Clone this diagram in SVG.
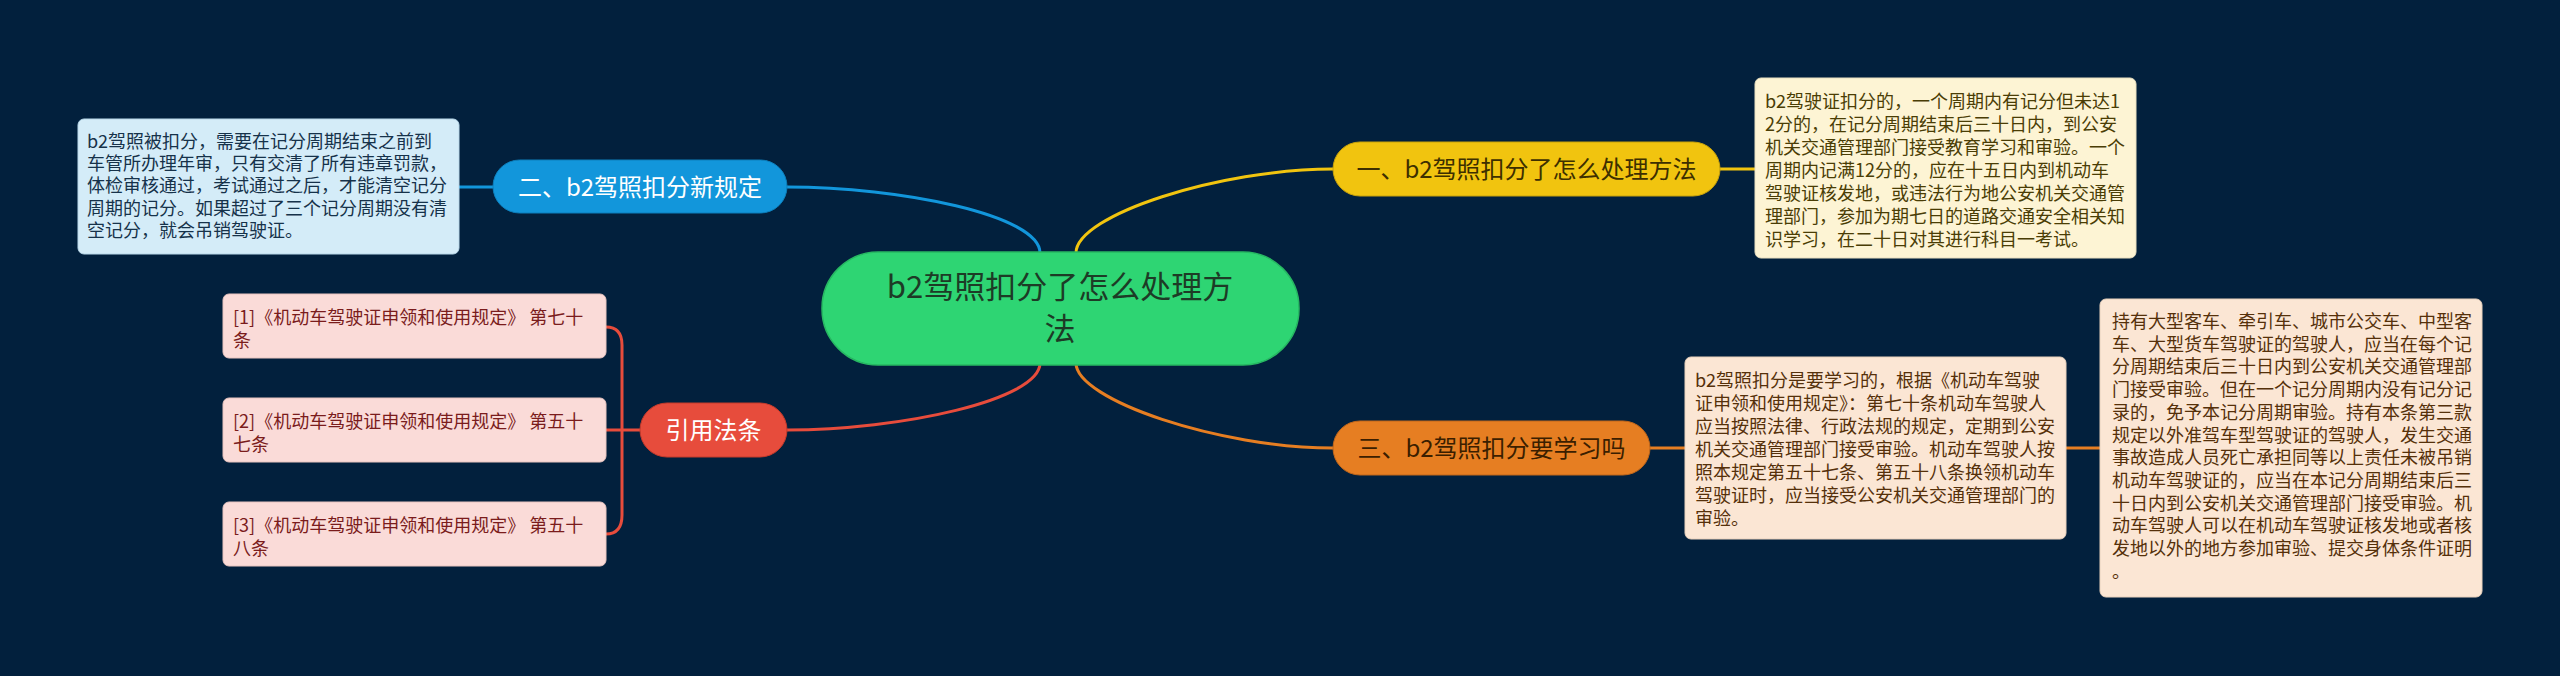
<svg xmlns="http://www.w3.org/2000/svg" width="2560" height="676" viewBox="0 0 2560 676">
<style>
text{font-family:"Noto Sans CJK SC","Noto Sans",sans-serif;}
.main{font-size:24px;text-anchor:middle;}
.desc{font-size:18px;}
.link{fill:none;stroke-width:3;stroke-linecap:round;}
</style>
<rect x="0" y="0" width="2560" height="676" fill="#02203d"/>
<g id="connectors">
<path class="link" stroke="#1296db" d="M1040,253 C1040,215 900,187 787,187"/>
<path class="link" stroke="#f1c40f" d="M1076,253 C1076,215 1220,169 1333,169"/>
<path class="link" stroke="#e74c3c" d="M1040,363 C1040,400 900,430 787,430"/>
<path class="link" stroke="#e67e22" d="M1076,363 C1076,400 1220,448 1333,448"/>
<path class="link" stroke="#1296db" d="M459,187 L493,187"/>
<path class="link" stroke="#f1c40f" d="M1720,169 L1755,169"/>
<path class="link" stroke="#e67e22" d="M1650,448 L1685,448"/>
<path class="link" stroke="#e67e22" d="M2066,448 L2100,448"/>
<path class="link" stroke="#e74c3c" stroke-width="2.5" d="M640,430 L606,430"/>
<path class="link" stroke="#e74c3c" stroke-width="2.5" d="M606,327 Q622,327 622,345 L622,515 Q622,534 606,534"/>
</g>
<g id="center">
<rect x="822" y="252" width="477" height="113" rx="56" fill="#2ed573" stroke="#27b862" stroke-width="1.5"/>
<text x="1060" y="298" font-size="31" text-anchor="middle" fill="#1d3b26">b2驾照扣分了怎么处理方</text>
<text x="1060" y="340" font-size="31" text-anchor="middle" fill="#1d3b26">法</text>
</g>
<g id="n1">
<rect x="1333" y="142" width="387" height="54" rx="27" fill="#f1c40f" stroke="#c9a20a" stroke-width="1"/>
<text class="main" x="1526.5" y="178" fill="#3d2f00">一、b2驾照扣分了怎么处理方法</text>
</g>
<g id="n1d">
<rect x="1755" y="78" width="381" height="180" rx="6" fill="#fdf4d4" stroke="#e8dfc0" stroke-width="1"/>
<text class="desc" fill="#4a3d05">
<tspan x="1765" y="108">b2驾驶证扣分的，一个周期内有记分但未达1</tspan>
<tspan x="1765" y="131">2分的，在记分周期结束后三十日内，到公安</tspan>
<tspan x="1765" y="154">机关交通管理部门接受教育学习和审验。一个</tspan>
<tspan x="1765" y="177">周期内记满12分的，应在十五日内到机动车</tspan>
<tspan x="1765" y="200">驾驶证核发地，或违法行为地公安机关交通管</tspan>
<tspan x="1765" y="223">理部门，参加为期七日的道路交通安全相关知</tspan>
<tspan x="1765" y="246">识学习，在二十日对其进行科目一考试。</tspan>
</text>
</g>
<g id="n2">
<rect x="493" y="160" width="294" height="53" rx="26.5" fill="#1296db" stroke="#0d7fbc" stroke-width="1"/>
<text class="main" x="640" y="195.5" fill="#ffffff">二、b2驾照扣分新规定</text>
</g>
<g id="n2d">
<rect x="78" y="119" width="381" height="135" rx="6" fill="#d4ecf8" stroke="#b9d8ea" stroke-width="1"/>
<text class="desc" fill="#16324a">
<tspan x="87" y="148">b2驾照被扣分，需要在记分周期结束之前到</tspan>
<tspan x="87" y="170.2">车管所办理年审，只有交清了所有违章罚款，</tspan>
<tspan x="87" y="192.4">体检审核通过，考试通过之后，才能清空记分</tspan>
<tspan x="87" y="214.6">周期的记分。如果超过了三个记分周期没有清</tspan>
<tspan x="87" y="236.8">空记分，就会吊销驾驶证。</tspan>
</text>
</g>
<g id="n3">
<rect x="1333" y="421" width="317" height="54" rx="27" fill="#e67e22" stroke="#c0661a" stroke-width="1"/>
<text class="main" x="1491.5" y="457" fill="#3b1e00">三、b2驾照扣分要学习吗</text>
</g>
<g id="n3d1">
<rect x="1685" y="357" width="381" height="182" rx="6" fill="#fbe6d4" stroke="#e8d1bd" stroke-width="1"/>
<text class="desc" fill="#55300a">
<tspan x="1695" y="387">b2驾照扣分是要学习的，根据《机动车驾驶</tspan>
<tspan x="1695" y="410">证申领和使用规定》：第七十条机动车驾驶人</tspan>
<tspan x="1695" y="433">应当按照法律、行政法规的规定，定期到公安</tspan>
<tspan x="1695" y="456">机关交通管理部门接受审验。机动车驾驶人按</tspan>
<tspan x="1695" y="479">照本规定第五十七条、第五十八条换领机动车</tspan>
<tspan x="1695" y="502">驾驶证时，应当接受公安机关交通管理部门的</tspan>
<tspan x="1695" y="525">审验。</tspan>
</text>
</g>
<g id="n3d2">
<rect x="2100" y="299" width="382" height="298" rx="6" fill="#fbe6d4" stroke="#e8d1bd" stroke-width="1"/>
<text class="desc" fill="#55300a">
<tspan x="2112" y="328">持有大型客车、牵引车、城市公交车、中型客</tspan>
<tspan x="2112" y="350.7">车、大型货车驾驶证的驾驶人，应当在每个记</tspan>
<tspan x="2112" y="373.4">分周期结束后三十日内到公安机关交通管理部</tspan>
<tspan x="2112" y="396.1">门接受审验。但在一个记分周期内没有记分记</tspan>
<tspan x="2112" y="418.8">录的，免予本记分周期审验。持有本条第三款</tspan>
<tspan x="2112" y="441.5">规定以外准驾车型驾驶证的驾驶人，发生交通</tspan>
<tspan x="2112" y="464.2">事故造成人员死亡承担同等以上责任未被吊销</tspan>
<tspan x="2112" y="486.9">机动车驾驶证的，应当在本记分周期结束后三</tspan>
<tspan x="2112" y="509.6">十日内到公安机关交通管理部门接受审验。机</tspan>
<tspan x="2112" y="532.3">动车驾驶人可以在机动车驾驶证核发地或者核</tspan>
<tspan x="2112" y="555">发地以外的地方参加审验、提交身体条件证明</tspan>
<tspan x="2112" y="577.7">。</tspan>
</text>
</g>
<g id="n4">
<rect x="640" y="403" width="147" height="54" rx="27" fill="#e74c3c" stroke="#c43a2b" stroke-width="1"/>
<text class="main" x="713.5" y="439" fill="#ffffff">引用法条</text>
</g>
<g id="n4d1">
<rect x="223" y="294" width="383" height="64" rx="6" fill="#fadbd8" stroke="#e8c4c0" stroke-width="1"/>
<text class="desc" fill="#7a1c1c"><tspan x="233" y="324">[1]《机动车驾驶证申领和使用规定》 第七十</tspan><tspan x="233" y="347">条</tspan></text>
</g>
<g id="n4d2">
<rect x="223" y="398" width="383" height="64" rx="6" fill="#fadbd8" stroke="#e8c4c0" stroke-width="1"/>
<text class="desc" fill="#7a1c1c"><tspan x="233" y="428">[2]《机动车驾驶证申领和使用规定》 第五十</tspan><tspan x="233" y="451">七条</tspan></text>
</g>
<g id="n4d3">
<rect x="223" y="502" width="383" height="64" rx="6" fill="#fadbd8" stroke="#e8c4c0" stroke-width="1"/>
<text class="desc" fill="#7a1c1c"><tspan x="233" y="532">[3]《机动车驾驶证申领和使用规定》 第五十</tspan><tspan x="233" y="555">八条</tspan></text>
</g>
</svg>
